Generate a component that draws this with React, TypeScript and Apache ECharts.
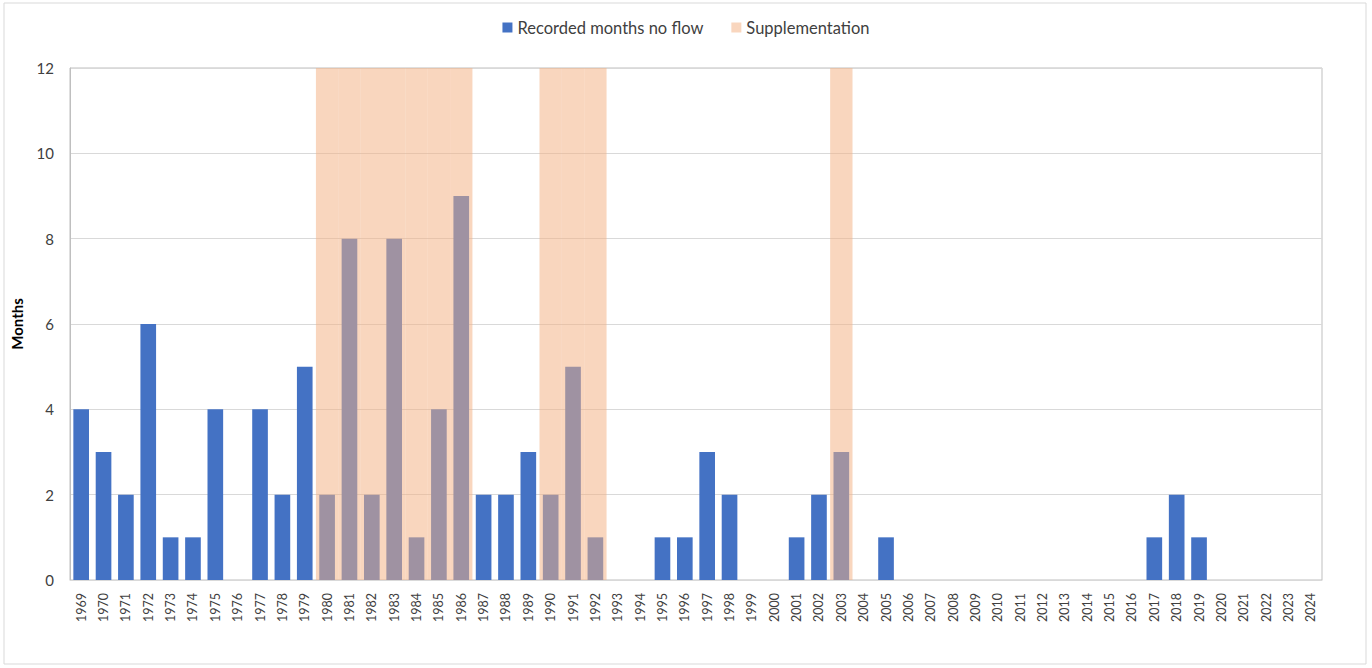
import React, { useEffect, useRef } from "react";
import * as echarts from "echarts";

const years: string[] = [
  "1969","1970","1971","1972","1973","1974","1975","1976","1977","1978",
  "1979","1980","1981","1982","1983","1984","1985","1986","1987","1988",
  "1989","1990","1991","1992","1993","1994","1995","1996","1997","1998",
  "1999","2000","2001","2002","2003","2004","2005","2006","2007","2008",
  "2009","2010","2011","2012","2013","2014","2015","2016","2017","2018",
  "2019","2020","2021","2022","2023","2024",
];

const monthsNoFlow: number[] = [
  4, 3, 2, 6, 1, 1, 4, 0, 4, 2,
  5, 2, 8, 2, 8, 1, 4, 9, 2, 2,
  3, 2, 5, 1, 0, 0, 1, 1, 3, 2,
  0, 0, 1, 2, 3, 0, 1, 0, 0, 0,
  0, 0, 0, 0, 0, 0, 0, 0, 1, 2,
  1, 0, 0, 0, 0, 0,
];

const supplementationYears: string[] = [
  "1980","1981","1982","1983","1984","1985","1986",
  "1990","1991","1992",
  "2003",
];

const yTicks = { min: 0, max: 12, interval: 2 };

export default function App() {
  const ref = useRef<HTMLDivElement>(null);
  useEffect(() => {
    if (!ref.current) return;
    const chart = echarts.init(ref.current, undefined, { renderer: "svg" });
    const font = "Lato, 'Open Sans', sans-serif";
    const suppData = years.map((y) =>
      supplementationYears.includes(y) ? yTicks.max : null
    );
    chart.setOption({
      animation: false,
      backgroundColor: "#ffffff",
      textStyle: { fontFamily: font },
      graphic: [
        {
          type: "rect",
          shape: { x: 4, y: 3, width: 1362, height: 661 },
          style: { fill: "none", stroke: "#D9D9D9", lineWidth: 1 },
          silent: true,
          z: -1,
        },
      ],
      legend: {
        top: 14,
        left: "center",
        itemWidth: 10,
        itemHeight: 10,
        itemGap: 28,
        icon: "rect",
        textStyle: { fontSize: 16.5, color: "#404040", fontFamily: font },
        data: [
          { name: "Recorded months no flow" },
          { name: "Supplementation" },
        ],
      },
      grid: {
        left: 70,
        right: 50,
        top: 68,
        bottom: 88,
        show: true,
        borderColor: "#BFBFBF",
        borderWidth: 1,
      },
      xAxis: [
        {
          type: "category",
          data: years,
          axisLine: { show: true, lineStyle: { color: "#D9D9D9" } },
          axisTick: { show: false },
          axisLabel: {
            rotate: 90,
            interval: 0,
            fontSize: 12.5,
            color: "#404040",
            margin: 13,
            fontFamily: font,
          },
        },
        {
          type: "category",
          data: years,
          show: false,
        },
      ],
      yAxis: {
        type: "value",
        min: yTicks.min,
        max: yTicks.max,
        interval: yTicks.interval,
        name: "Months",
        nameLocation: "middle",
        nameGap: 46,
        nameRotate: 90,
        nameTextStyle: {
          fontSize: 15,
          fontWeight: "bold",
          color: "#000000",
          fontFamily: font,
        },
        axisLine: { show: true, lineStyle: { color: "#BFBFBF" } },
        axisTick: { show: false },
        axisLabel: { fontSize: 15, color: "#404040", margin: 16, fontFamily: font },
        splitLine: { lineStyle: { color: "#D9D9D9" } },
      },
      series: [
        {
          name: "Recorded months no flow",
          type: "bar",
          xAxisIndex: 0,
          data: monthsNoFlow,
          barWidth: "70%",
          itemStyle: { color: "#4472C4" },
          z: 2,
        },
        {
          name: "Supplementation",
          type: "bar",
          xAxisIndex: 1,
          data: suppData,
          barWidth: "100%",
          itemStyle: { color: "rgba(244,177,131,0.52)" },
          z: 3,
        },
      ],
    });
    return () => chart.dispose();
  }, []);
  return (
    <div
      ref={ref}
      style={{ position: "fixed", left: 0, top: 0, width: 1372, height: 668 }}
    />
  );
}
